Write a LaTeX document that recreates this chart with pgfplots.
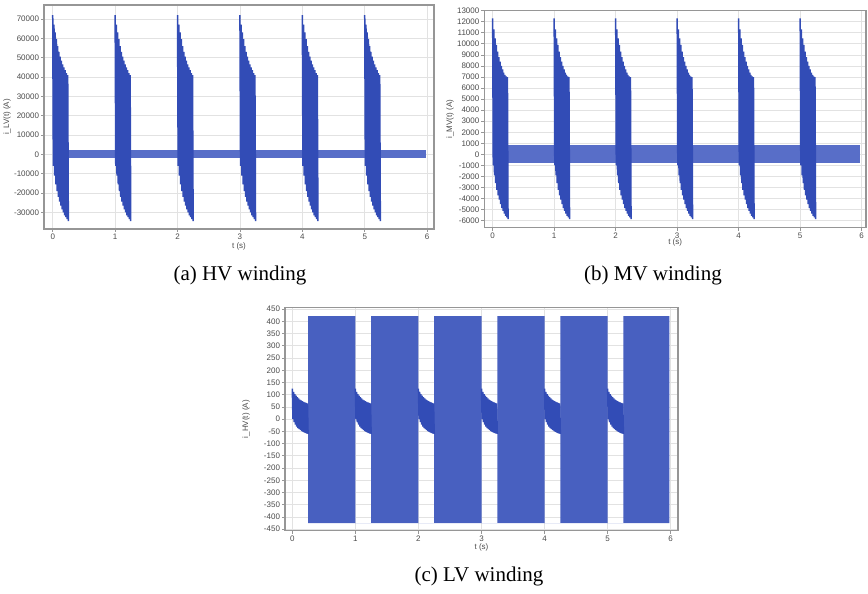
\documentclass[border=0pt]{standalone}
\usepackage{fontspec}
\setmainfont{Liberation Serif}
\newfontfamily\lblfont{Liberation Sans}
\usepackage{pgfplots}
\pgfplotsset{compat=1.18}

\definecolor{wave}{RGB}{50,76,182}
\definecolor{waveband}{RGB}{72,96,192}
\definecolor{lineband}{RGB}{88,110,200}
\definecolor{gridc}{RGB}{226,226,226}
\definecolor{framec}{RGB}{150,150,150}
\definecolor{ticktxt}{RGB}{75,75,75}

\pgfplotsset{
  winding/.style={
    scale only axis, anchor=south west,
    xtick={0,...,6},
    grid=major, major grid style={gridc, line width=0.4pt},
    axis line style={framec, line width=0.6pt},
    tick style={framec, line width=0.4pt},
    tick align=outside, major tick length=1.5pt,
    tick pos=left,
    ticklabel style={font=\lblfont\fontsize{4}{4.5}\selectfont, text=ticktxt, inner sep=0.8pt},
    label style={font=\lblfont\fontsize{4}{4.5}\selectfont, text=ticktxt},
    /pgf/number format/assume math mode=true,
    scaled y ticks=false,
    yticklabel style={/pgf/number format/.cd, fixed, 1000 sep={}},
    unbounded coords=jump,
    xlabel={t (s)},
  },
  zig/.style={wave, line width=0.75pt, line join=bevel},
}

\begin{document}
\begin{tikzpicture}[x=1pt,y=1pt]
\path[use as bounding box] (0,0) rectangle (434,297);

% (a) HV winding
\begin{axis}[winding, at={(22pt,182.5pt)}, width=195pt, height=112pt,
  xmin=-0.14, xmax=6.11, ymin=-38600, ymax=77200,
  ytick={-30000,-20000,...,70000},
  ylabel={i\_LV(t) (A)},
  ylabel style={at={(axis description cs:-0.095,0.5)}, anchor=center},
  xlabel style={at={(axis description cs:0.5,-0.076)}, anchor=center}]
\addplot[draw=none, fill=lineband] coordinates {(0.25,2100) (5.98,2100) (5.98,-2100) (0.25,-2100)} -- cycle;
\addplot[zig] coordinates {
(0.00,72000)(0.01,-6000)(0.02,67000)(0.03,-11000)(0.04,63000)(0.05,-15500)(0.06,59500)(0.07,-19000)(0.08,56000)(0.09,-22000)(0.10,53000)(0.11,-24500)(0.12,50500)(0.13,-26500)(0.14,48500)(0.15,-28500)(0.16,46500)(0.17,-30000)(0.18,45000)(0.19,-31500)(0.20,43500)(0.21,-32500)(0.22,42000)(0.23,-33500)(0.24,41000)(0.25,-34500)(0.5,nan)
(1.00,72000)(1.01,-6000)(1.02,67000)(1.03,-11000)(1.04,63000)(1.05,-15500)(1.06,59500)(1.07,-19000)(1.08,56000)(1.09,-22000)(1.10,53000)(1.11,-24500)(1.12,50500)(1.13,-26500)(1.14,48500)(1.15,-28500)(1.16,46500)(1.17,-30000)(1.18,45000)(1.19,-31500)(1.20,43500)(1.21,-32500)(1.22,42000)(1.23,-33500)(1.24,41000)(1.25,-34500)(1.5,nan)
(2.00,72000)(2.01,-6000)(2.02,67000)(2.03,-11000)(2.04,63000)(2.05,-15500)(2.06,59500)(2.07,-19000)(2.08,56000)(2.09,-22000)(2.10,53000)(2.11,-24500)(2.12,50500)(2.13,-26500)(2.14,48500)(2.15,-28500)(2.16,46500)(2.17,-30000)(2.18,45000)(2.19,-31500)(2.20,43500)(2.21,-32500)(2.22,42000)(2.23,-33500)(2.24,41000)(2.25,-34500)(2.5,nan)
(3.00,72000)(3.01,-6000)(3.02,67000)(3.03,-11000)(3.04,63000)(3.05,-15500)(3.06,59500)(3.07,-19000)(3.08,56000)(3.09,-22000)(3.10,53000)(3.11,-24500)(3.12,50500)(3.13,-26500)(3.14,48500)(3.15,-28500)(3.16,46500)(3.17,-30000)(3.18,45000)(3.19,-31500)(3.20,43500)(3.21,-32500)(3.22,42000)(3.23,-33500)(3.24,41000)(3.25,-34500)(3.5,nan)
(4.00,72000)(4.01,-6000)(4.02,67000)(4.03,-11000)(4.04,63000)(4.05,-15500)(4.06,59500)(4.07,-19000)(4.08,56000)(4.09,-22000)(4.10,53000)(4.11,-24500)(4.12,50500)(4.13,-26500)(4.14,48500)(4.15,-28500)(4.16,46500)(4.17,-30000)(4.18,45000)(4.19,-31500)(4.20,43500)(4.21,-32500)(4.22,42000)(4.23,-33500)(4.24,41000)(4.25,-34500)(4.5,nan)
(5.00,72000)(5.01,-6000)(5.02,67000)(5.03,-11000)(5.04,63000)(5.05,-15500)(5.06,59500)(5.07,-19000)(5.08,56000)(5.09,-22000)(5.10,53000)(5.11,-24500)(5.12,50500)(5.13,-26500)(5.14,48500)(5.15,-28500)(5.16,46500)(5.17,-30000)(5.18,45000)(5.19,-31500)(5.20,43500)(5.21,-32500)(5.22,42000)(5.23,-33500)(5.24,41000)(5.25,-34500)
};
\end{axis}

% (b) MV winding
\begin{axis}[winding, at={(242.15pt,183.15pt)}, width=190.85pt, height=108.5pt,
  xmin=-0.136, xmax=6.07, ymin=-6630, ymax=13000,
  ytick={-6000,-5000,...,13000},
  ylabel={i\_MV(t) (A)},
  ylabel style={at={(axis description cs:-0.09,0.5)}, anchor=center},
  xlabel style={at={(axis description cs:0.5,-0.069)}, anchor=center}]
\addplot[draw=none, fill=lineband] coordinates {(0.25,830) (5.98,830) (5.98,-800) (0.25,-800)} -- cycle;
\addplot[zig] coordinates {
(0.00,12300)(0.01,-1000)(0.02,11300)(0.03,-1900)(0.04,10500)(0.05,-2600)(0.06,9900)(0.07,-3200)(0.08,9300)(0.09,-3700)(0.10,8800)(0.11,-4100)(0.12,8400)(0.13,-4500)(0.14,8000)(0.15,-4850)(0.16,7700)(0.17,-5100)(0.18,7400)(0.19,-5350)(0.20,7200)(0.21,-5550)(0.22,7050)(0.23,-5700)(0.24,7000)(0.25,-5850)(0.5,nan)
(1.00,12300)(1.01,-1000)(1.02,11300)(1.03,-1900)(1.04,10500)(1.05,-2600)(1.06,9900)(1.07,-3200)(1.08,9300)(1.09,-3700)(1.10,8800)(1.11,-4100)(1.12,8400)(1.13,-4500)(1.14,8000)(1.15,-4850)(1.16,7700)(1.17,-5100)(1.18,7400)(1.19,-5350)(1.20,7200)(1.21,-5550)(1.22,7050)(1.23,-5700)(1.24,7000)(1.25,-5850)(1.5,nan)
(2.00,12300)(2.01,-1000)(2.02,11300)(2.03,-1900)(2.04,10500)(2.05,-2600)(2.06,9900)(2.07,-3200)(2.08,9300)(2.09,-3700)(2.10,8800)(2.11,-4100)(2.12,8400)(2.13,-4500)(2.14,8000)(2.15,-4850)(2.16,7700)(2.17,-5100)(2.18,7400)(2.19,-5350)(2.20,7200)(2.21,-5550)(2.22,7050)(2.23,-5700)(2.24,7000)(2.25,-5850)(2.5,nan)
(3.00,12300)(3.01,-1000)(3.02,11300)(3.03,-1900)(3.04,10500)(3.05,-2600)(3.06,9900)(3.07,-3200)(3.08,9300)(3.09,-3700)(3.10,8800)(3.11,-4100)(3.12,8400)(3.13,-4500)(3.14,8000)(3.15,-4850)(3.16,7700)(3.17,-5100)(3.18,7400)(3.19,-5350)(3.20,7200)(3.21,-5550)(3.22,7050)(3.23,-5700)(3.24,7000)(3.25,-5850)(3.5,nan)
(4.00,12300)(4.01,-1000)(4.02,11300)(4.03,-1900)(4.04,10500)(4.05,-2600)(4.06,9900)(4.07,-3200)(4.08,9300)(4.09,-3700)(4.10,8800)(4.11,-4100)(4.12,8400)(4.13,-4500)(4.14,8000)(4.15,-4850)(4.16,7700)(4.17,-5100)(4.18,7400)(4.19,-5350)(4.20,7200)(4.21,-5550)(4.22,7050)(4.23,-5700)(4.24,7000)(4.25,-5850)(4.5,nan)
(5.00,12300)(5.01,-1000)(5.02,11300)(5.03,-1900)(5.04,10500)(5.05,-2600)(5.06,9900)(5.07,-3200)(5.08,9300)(5.09,-3700)(5.10,8800)(5.11,-4100)(5.12,8400)(5.13,-4500)(5.14,8000)(5.15,-4850)(5.16,7700)(5.17,-5100)(5.18,7400)(5.19,-5350)(5.20,7200)(5.21,-5550)(5.22,7050)(5.23,-5700)(5.24,7000)(5.25,-5850)
};
\end{axis}

% (c) LV winding
\begin{axis}[winding, at={(142.5pt,31.65pt)}, width=196.5pt, height=111.5pt,
  xmin=-0.116, xmax=6.116, ymin=-456, ymax=456,
  ytick={-450,-400,...,450},
  ylabel={i\_HV(t) (A)},
  ylabel style={at={(axis description cs:-0.099,0.5)}, anchor=center},
  xlabel style={at={(axis description cs:0.5,-0.076)}, anchor=center}]
\addplot[draw=none, fill=waveband] coordinates {
(0.25,-425)(0.25,422)(1,422)(1,-425)(1.25,-425)(1.25,422)(2,422)(2,-425)
(2.25,-425)(2.25,422)(3,422)(3,-425)(3.25,-425)(3.25,422)(4,422)(4,-425)
(4.25,-425)(4.25,422)(5,422)(5,-425)(5.25,-425)(5.25,422)(5.98,422)(5.98,-425)} -- cycle;
\addplot[zig] coordinates {
(0.00,125)(0.01,0)(0.02,112)(0.03,-12)(0.04,103)(0.05,-22)(0.06,96)(0.07,-30)(0.08,90)(0.09,-36)(0.10,85)(0.11,-41)(0.12,80)(0.13,-45)(0.14,77)(0.15,-49)(0.16,74)(0.17,-52)(0.18,71)(0.19,-55)(0.20,69)(0.21,-57)(0.22,67)(0.23,-59)(0.24,65)(0.25,-60)(0.5,nan)
(1.00,125)(1.01,0)(1.02,112)(1.03,-12)(1.04,103)(1.05,-22)(1.06,96)(1.07,-30)(1.08,90)(1.09,-36)(1.10,85)(1.11,-41)(1.12,80)(1.13,-45)(1.14,77)(1.15,-49)(1.16,74)(1.17,-52)(1.18,71)(1.19,-55)(1.20,69)(1.21,-57)(1.22,67)(1.23,-59)(1.24,65)(1.25,-60)(1.5,nan)
(2.00,125)(2.01,0)(2.02,112)(2.03,-12)(2.04,103)(2.05,-22)(2.06,96)(2.07,-30)(2.08,90)(2.09,-36)(2.10,85)(2.11,-41)(2.12,80)(2.13,-45)(2.14,77)(2.15,-49)(2.16,74)(2.17,-52)(2.18,71)(2.19,-55)(2.20,69)(2.21,-57)(2.22,67)(2.23,-59)(2.24,65)(2.25,-60)(2.5,nan)
(3.00,125)(3.01,0)(3.02,112)(3.03,-12)(3.04,103)(3.05,-22)(3.06,96)(3.07,-30)(3.08,90)(3.09,-36)(3.10,85)(3.11,-41)(3.12,80)(3.13,-45)(3.14,77)(3.15,-49)(3.16,74)(3.17,-52)(3.18,71)(3.19,-55)(3.20,69)(3.21,-57)(3.22,67)(3.23,-59)(3.24,65)(3.25,-60)(3.5,nan)
(4.00,125)(4.01,0)(4.02,112)(4.03,-12)(4.04,103)(4.05,-22)(4.06,96)(4.07,-30)(4.08,90)(4.09,-36)(4.10,85)(4.11,-41)(4.12,80)(4.13,-45)(4.14,77)(4.15,-49)(4.16,74)(4.17,-52)(4.18,71)(4.19,-55)(4.20,69)(4.21,-57)(4.22,67)(4.23,-59)(4.24,65)(4.25,-60)(4.5,nan)
(5.00,125)(5.01,0)(5.02,112)(5.03,-12)(5.04,103)(5.05,-22)(5.06,96)(5.07,-30)(5.08,90)(5.09,-36)(5.10,85)(5.11,-41)(5.12,80)(5.13,-45)(5.14,77)(5.15,-49)(5.16,74)(5.17,-52)(5.18,71)(5.19,-55)(5.20,69)(5.21,-57)(5.22,67)(5.23,-59)(5.24,65)(5.25,-60)
};
\end{axis}

\node[font=\fontsize{10.5}{12}\selectfont] at (120pt,159.5pt) {(a) HV winding};
\node[font=\fontsize{10.5}{12}\selectfont] at (326.5pt,159.5pt) {(b) MV winding};
\node[font=\fontsize{10.5}{12}\selectfont] at (239.5pt,9pt) {(c) LV winding};
\end{tikzpicture}
\end{document}
